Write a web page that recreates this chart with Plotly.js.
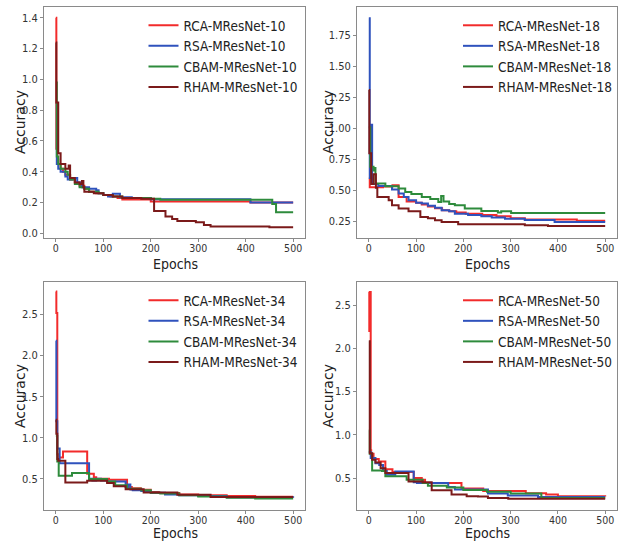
<!DOCTYPE html>
<html>
<head>
<meta charset="utf-8">
<script src="https://cdn.plot.ly/plotly-3.0.1.min.js"></script>
<style>html,body{margin:0;padding:0;background:#fff;}#chart{width:623px;height:541px;}</style>
</head>
<body>
<div id="chart"></div>
<script>
// ---- MResNet-10 ----
const rca10_x = [0,1,3,5,10,15,20,30,40,50,60,70,85,100,115,130,140,200,410,500];
const rca10_y = [1.40,0.55,0.48,0.45,0.42,0.40,0.38,0.35,0.33,0.31,0.29,0.27,0.26,0.25,0.24,0.23,0.22,0.207,0.20,0.20];
const rsa10_x = [0,2,5,10,20,25,35,45,55,70,85,90,100,110,120,135,160,200,410,500];
const rsa10_y = [0.85,0.45,0.42,0.40,0.37,0.35,0.36,0.33,0.30,0.29,0.28,0.26,0.25,0.24,0.257,0.235,0.23,0.222,0.20,0.20];
const cbam10_x = [0,2,5,10,20,25,30,40,50,60,70,90,100,120,140,200,220,456,464,500];
const cbam10_y = [0.98,0.50,0.45,0.42,0.40,0.38,0.35,0.32,0.30,0.29,0.27,0.26,0.25,0.24,0.23,0.225,0.218,0.19,0.137,0.137];
const rham10_x = [0,1,5,10,20,27,30,40,50,55,58,60,80,100,120,140,180,207,231,245,256,295,312,326,450,500];
const rham10_y = [1.24,0.85,0.52,0.45,0.42,0.44,0.36,0.33,0.32,0.34,0.30,0.27,0.26,0.25,0.24,0.23,0.225,0.146,0.109,0.094,0.081,0.072,0.055,0.044,0.04,0.04];

// ---- MResNet-18 ----
const rca18_x = [0,2,30,50,63,80,100,112,125,140,155,170,185,205,240,270,300,330,440,500];
const rca18_y = [0.595,0.525,0.53,0.54,0.447,0.41,0.40,0.385,0.37,0.355,0.34,0.33,0.32,0.31,0.30,0.29,0.275,0.265,0.255,0.255];
const rsa18_x = [0,2,4,7,20,49,63,74,84,100,112,125,140,154,170,182,210,238,260,288,330,393,500];
const rsa18_y = [1.89,0.60,1.03,0.55,0.535,0.507,0.474,0.447,0.42,0.40,0.393,0.375,0.36,0.34,0.33,0.31,0.30,0.29,0.28,0.27,0.26,0.245,0.245];
const cbam18_x = [0,3,10,12,14,35,63,77,90,112,130,147,153,158,170,182,203,238,273,280,301,500];
const cbam18_y = [1.01,0.69,0.66,0.68,0.555,0.533,0.515,0.487,0.47,0.447,0.43,0.406,0.455,0.41,0.39,0.38,0.353,0.333,0.32,0.33,0.317,0.317];
const rham18_x = [0,1,5,10,15,18,42,49,63,84,109,125,140,154,189,330,379,500];
const rham18_y = [1.31,0.80,0.55,0.63,0.52,0.447,0.42,0.38,0.353,0.33,0.285,0.275,0.258,0.245,0.226,0.218,0.212,0.212];

// ---- MResNet-34 ----
const rca34_x = [0,1,3,5,15,66,80,85,112,150,156,160,179,200,217,260,300,360,420,500];
const rca34_y = [2.78,2.52,0.80,0.76,0.833,0.56,0.52,0.50,0.488,0.415,0.40,0.386,0.366,0.34,0.326,0.31,0.30,0.29,0.28,0.28];
const rsa34_x = [0,1,3,8,70,77,85,95,108,147,152,157,162,180,200,230,260,300,360,500];
const rsa34_y = [2.18,1.20,0.87,0.69,0.50,0.48,0.50,0.48,0.467,0.40,0.43,0.37,0.36,0.35,0.33,0.31,0.30,0.29,0.275,0.27];
const cbam34_x = [0,3,6,34,70,108,125,150,180,200,220,260,300,360,420,500];
const cbam34_y = [1.02,0.71,0.537,0.57,0.496,0.467,0.42,0.38,0.36,0.33,0.32,0.30,0.285,0.27,0.26,0.26];
const rham34_x = [0,1,3,5,20,66,108,122,147,185,256,326,500];
const rham34_y = [1.22,1.05,0.74,0.72,0.455,0.476,0.45,0.41,0.374,0.333,0.305,0.277,0.277];

// ---- MResNet-50 ----
const rca50_x = [0,1,2,4,5,10,21,35,50,95,112,119,196,242,332,375,400,500];
const rca50_y = [2.65,2.20,2.65,0.82,0.78,0.72,0.69,0.60,0.57,0.50,0.48,0.443,0.38,0.35,0.325,0.31,0.29,0.285];
const rsa50_x = [0,4,14,22,30,38,56,95,102,168,182,252,294,358,500];
const rsa50_y = [0.80,0.73,0.67,0.65,0.58,0.538,0.576,0.45,0.443,0.397,0.366,0.32,0.298,0.28,0.28];
const cbam50_x = [0,2,7,28,35,80,114,125,165,200,250,300,365,500];
const cbam50_y = [1.05,0.78,0.587,0.58,0.52,0.48,0.443,0.41,0.39,0.36,0.34,0.32,0.27,0.27];
const rham50_x = [0,2,7,14,25,35,84,114,133,175,207,231,252,295,500];
const rham50_y = [2.08,0.786,0.71,0.68,0.614,0.557,0.46,0.45,0.358,0.31,0.29,0.285,0.27,0.26,0.26];

const names = ['RCA-MResNet','RSA-MResNet','CBAM-MResNet','RHAM-MResNet'];
const colors = ['#f22b2b','#2f52bd','#2e8b3c','#7b1a1a'];
const depths = ['10','18','34','50'];
const xTickVals = [0,100,200,300,400,500];
const xTitle = 'Epochs';
const yTitle = 'Accuracy';
const seriesX = [[rca10_x,rsa10_x,cbam10_x,rham10_x],[rca18_x,rsa18_x,cbam18_x,rham18_x],[rca34_x,rsa34_x,cbam34_x,rham34_x],[rca50_x,rsa50_x,cbam50_x,rham50_x]];
const seriesY = [[rca10_y,rsa10_y,cbam10_y,rham10_y],[rca18_y,rsa18_y,cbam18_y,rham18_y],[rca34_y,rsa34_y,cbam34_y,rham34_y],[rca50_y,rsa50_y,cbam50_y,rham50_y]];

const FONT = '"DejaVu Sans Condensed", "Liberation Sans Narrow", "DejaVu Sans", sans-serif';
const VFONT = '"DejaVu Sans", sans-serif';
const W = 623, H = 541;

const traces = [];
for (let p = 0; p < 4; p++) {
  const sfx = p === 0 ? '' : String(p + 1);
  for (let s = 0; s < 4; s++) {
    traces.push({
      type: 'scatter', mode: 'lines',
      x: seriesX[p][s], y: seriesY[p][s],
      name: names[s] + '-' + depths[p],
      line: {color: colors[s], width: 2, shape: 'hv'},
      xaxis: 'x' + sfx, yaxis: 'y' + sfx,
      legend: 'legend' + sfx
    });
  }
}

const colDom = [[44/W, 305/W], [357/W, 617/W]];
const rowDom = [[1 - 238/H, 1 - 7/H], [1 - 510/H, 1 - 281.7/H]];
const yRanges = [[-0.03, 1.47], [0.115, 1.98], [0.12, 2.9], [0.13, 2.77]];
const yTicks = [[0,0.2,0.4,0.6,0.8,1.0,1.2,1.4],[0.25,0.5,0.75,1.0,1.25,1.5,1.75],[0.5,1.0,1.5,2.0,2.5],[0.5,1.0,1.5,2.0,2.5]];
const yFmt = ['.1f','.2f','.1f','.1f'];
const legPos = [[143.5/W, 1 - 10/H], [458/W, 1 - 10/H], [143.5/W, 1 - 285/H], [458/W, 1 - 285/H]];
// axis-title centres (paper px)
const xTitlePos = [[175, 263.5], [487, 263.5], [175, 533], [487, 533]];
const yTitlePos = [[20, 122], [328, 122], [20, 396], [328, 396]];

const layout = {
  width: W, height: H,
  margin: {l: 0, r: 0, t: 0, b: 0},
  paper_bgcolor: '#fff', plot_bgcolor: '#fff',
  font: {family: FONT, color: '#222'},
  showlegend: true,
  annotations: []
};

for (let p = 0; p < 4; p++) {
  const sfx = p === 0 ? '' : String(p + 1);
  const col = p % 2, row = Math.floor(p / 2);
  const axCommon = {
    showline: true, mirror: true, linecolor: '#8a8a8a', linewidth: 1,
    ticks: 'outside', ticklen: 3, tickcolor: '#8a8a8a', tickwidth: 1,
    showgrid: false, zeroline: false,
    tickfont: {family: FONT, size: 11, color: '#333'}
  };
  layout['xaxis' + sfx] = Object.assign({}, axCommon, {
    domain: colDom[col], anchor: 'y' + sfx,
    range: [-25, 525], tickvals: xTickVals, ticklabelstandoff: -3,
    tickfont: {family: FONT, size: 10.5, color: '#333'}
  });
  layout['yaxis' + sfx] = Object.assign({}, axCommon, {
    domain: rowDom[row], anchor: 'x' + sfx,
    range: yRanges[p], tickvals: yTicks[p], tickformat: yFmt[p]
  });
  layout['legend' + sfx] = {
    x: legPos[p][0], y: legPos[p][1], xanchor: 'left', yanchor: 'top',
    bgcolor: 'rgba(0,0,0,0)', borderwidth: 0,
    font: {family: FONT, size: 13.5, color: '#222'},
    tracegroupgap: 0
  };
  layout.annotations.push({
    text: xTitle, xref: 'paper', yref: 'paper',
    x: xTitlePos[p][0] / W, y: 1 - xTitlePos[p][1] / H,
    xanchor: 'center', yanchor: 'middle', showarrow: false,
    font: {family: FONT, size: 14, color: '#222'}
  });
  layout.annotations.push({
    text: yTitle, xref: 'paper', yref: 'paper',
    x: yTitlePos[p][0] / W, y: 1 - yTitlePos[p][1] / H,
    xanchor: 'center', yanchor: 'middle', showarrow: false, textangle: -90,
    font: {family: VFONT, size: 14, color: '#222'}
  });
}

Plotly.newPlot('chart', traces, layout, {displayModeBar: false, staticPlot: true});
</script>
</body>
</html>
